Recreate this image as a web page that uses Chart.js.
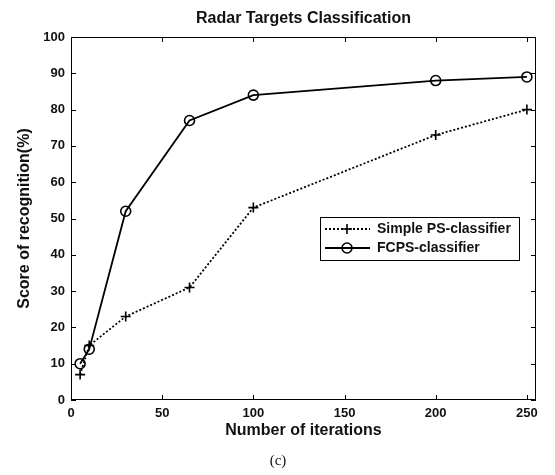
<!DOCTYPE html>
<html>
<head>
<meta charset="utf-8">
<script src="https://cdn.jsdelivr.net/npm/chart.js@4.4.1/dist/chart.umd.min.js"></script>
<style>
  html, body { margin: 0; padding: 0; background: #fff; }
  #wrap { width: 555px; height: 475px; }
</style>
</head>
<body>
<div id="wrap"><canvas id="c" width="555" height="475"></canvas></div>
<script>
// values
const iterations = [5, 10, 30, 65, 100, 200, 250];
const simplePS = [7, 15, 23, 31, 53, 73, 80];
const fcps = [10, 14, 52, 77, 84, 88, 89];
const seriesLabels = ['Simple PS-classifier', 'FCPS-classifier'];
const xTicks = [0, 50, 100, 150, 200, 250];

const toPoints = (ys) => iterations.map((x, i) => ({ x: x, y: ys[i] }));
const FONT = '"Liberation Sans", Arial, sans-serif';

// frame, inward ticks, titles and legend like the MATLAB figure
const matlabLook = {
  id: 'matlabLook',
  afterDraw(chart) {
    const ctx = chart.ctx;
    const a = chart.chartArea;
    const xs = chart.scales.x, ys = chart.scales.y;
    ctx.save();
    ctx.strokeStyle = '#000';
    ctx.lineWidth = 1;
    ctx.strokeRect(a.left + 0.5, a.top + 0.5, a.right - a.left - 1, a.bottom - a.top - 1);
    const tl = 5;
    ctx.beginPath();
    xs.ticks.forEach(t => {
      const px = Math.round(xs.getPixelForValue(t.value)) + 0.5;
      ctx.moveTo(px, a.bottom); ctx.lineTo(px, a.bottom - tl);
      ctx.moveTo(px, a.top); ctx.lineTo(px, a.top + tl);
    });
    ys.ticks.forEach(t => {
      const py = Math.round(ys.getPixelForValue(t.value)) + 0.5;
      ctx.moveTo(a.left, py); ctx.lineTo(a.left + tl, py);
      ctx.moveTo(a.right, py); ctx.lineTo(a.right - tl, py);
    });
    ctx.stroke();

    // titles
    ctx.fillStyle = '#111';
    ctx.textAlign = 'center';
    ctx.textBaseline = 'middle';
    ctx.font = 'bold 16px ' + FONT;
    ctx.fillText('Radar Targets Classification', (a.left + a.right) / 2, 19);
    ctx.fillText('Number of iterations', (a.left + a.right) / 2, 431);
    ctx.save();
    ctx.translate(25, (a.top + a.bottom) / 2);
    ctx.rotate(-Math.PI / 2);
    ctx.fillText('Score of recognition(%)', 0, 0);
    ctx.restore();
    ctx.font = '15px "Liberation Serif", "Times New Roman", serif';
    ctx.fillText('(c)', 278, 461);

    // legend
    const lx = 320, ly = 217, lw = 199, lh = 43;
    ctx.fillStyle = '#fff';
    ctx.fillRect(lx, ly, lw, lh);
    ctx.strokeStyle = '#000';
    ctx.lineWidth = 1;
    ctx.strokeRect(lx + 0.5, ly + 0.5, lw, lh);
    const rows = [229, 248];
    chart.data.datasets.forEach((ds, i) => {
      const y = rows[i];
      ctx.save();
      ctx.strokeStyle = '#000';
      ctx.lineWidth = ds.borderWidth;
      ctx.setLineDash(ds.borderDash || []);
      ctx.beginPath();
      ctx.moveTo(325, y); ctx.lineTo(370, y);
      ctx.stroke();
      ctx.setLineDash([]);
      ctx.lineWidth = 1.6;
      ctx.beginPath();
      if (ds.pointStyle === 'circle') {
        ctx.arc(347, y, ds.pointRadius, 0, Math.PI * 2);
      } else {
        const r = ds.pointRadius;
        ctx.moveTo(347 - r, y); ctx.lineTo(347 + r, y);
        ctx.moveTo(347, y - r); ctx.lineTo(347, y + r);
      }
      ctx.stroke();
      ctx.restore();
      ctx.fillStyle = '#111';
      ctx.textAlign = 'left';
      ctx.font = 'bold 14px ' + FONT;
      ctx.fillText(ds.label, 377, y);
    });
    ctx.restore();
  }
};

new Chart(document.getElementById('c'), {
  type: 'line',
  data: {
    datasets: [
      {
        label: seriesLabels[0],
        data: toPoints(simplePS),
        borderColor: '#000',
        borderWidth: 1.8,
        borderDash: [2, 2],
        pointStyle: 'cross',
        pointRadius: 5,
        pointBorderWidth: 1.6,
        pointBorderColor: '#000',
        pointBackgroundColor: 'transparent',
        tension: 0
      },
      {
        label: seriesLabels[1],
        data: toPoints(fcps),
        borderColor: '#000',
        borderWidth: 1.8,
        pointStyle: 'circle',
        pointRadius: 5,
        pointBorderWidth: 1.6,
        pointBorderColor: '#000',
        pointBackgroundColor: 'transparent',
        tension: 0
      }
    ]
  },
  options: {
    responsive: false,
    animation: false,
    layout: { padding: { top: 37, right: 19, left: 0, bottom: 0 } },
    plugins: { legend: { display: false }, title: { display: false }, tooltip: { enabled: false } },
    scales: {
      x: {
        type: 'linear',
        min: 0,
        max: 255,
        afterBuildTicks: s => { s.ticks = xTicks.map(v => ({ value: v })); },
        afterFit: s => { s.height = 75; },
        grid: { display: false, drawTicks: false },
        border: { display: false },
        ticks: { color: '#111', padding: 6, font: { family: FONT, size: 13, weight: 'bold' } }
      },
      y: {
        min: 0,
        max: 100,
        afterFit: s => { s.width = 71; },
        grid: { display: false, drawTicks: false },
        border: { display: false },
        ticks: { stepSize: 10, color: '#111', padding: 6, font: { family: FONT, size: 13, weight: 'bold' } }
      }
    }
  },
  plugins: [matlabLook]
});
</script>
</body>
</html>
